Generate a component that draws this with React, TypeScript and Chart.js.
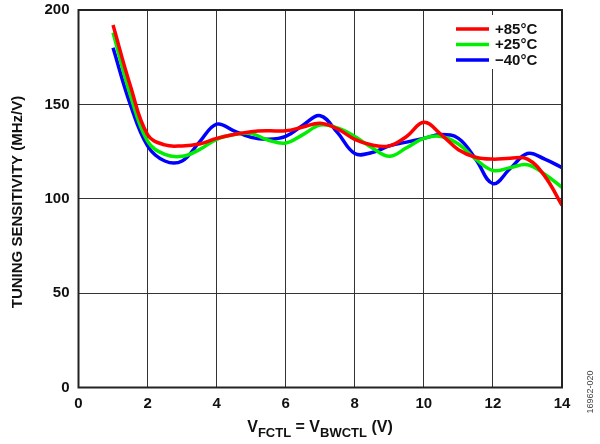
import React, { useEffect, useRef } from "react";
import { Chart, registerables } from "chart.js";

Chart.register(...registerables);

const xVals = [1, 1.5, 2, 2.5, 3, 3.5, 4, 4.5, 5, 5.5, 6, 6.5, 7, 7.5, 8, 8.5, 9, 9.5, 10, 10.5, 11, 11.5, 12, 12.5, 13, 13.5, 14];
const red85 = [192, 160, 134, 128.5, 128, 129, 132, 134, 135.5, 136, 136, 138, 140, 137, 131.5, 128.5, 128, 133, 140.5, 134, 126, 122, 121, 121.5, 121, 112, 96.5];
const green25 = [188, 155, 130.5, 123.5, 122.5, 126, 131.5, 134, 134.5, 131, 129.5, 134, 139, 137.5, 133, 127, 122.5, 127, 132, 133, 129, 121, 115, 116.5, 118, 113, 106];
const blueM40 = [180, 150, 128, 120, 120, 130, 139.5, 136, 132.5, 131.5, 133, 139, 144, 135, 124, 124.5, 128, 130, 132, 134, 132, 121, 108, 116, 124, 121, 116.5];
const seriesLabels = ["+85°C", "+25°C", "\u221240°C"];
const seriesColors = ["#ff0000", "#00ee00", "#0000ff"];
const xTicks = [0, 2, 4, 6, 8, 10, 12, 14];
const yTicks = [0, 50, 100, 150, 200];

const FONT = "'Liberation Sans', Arial, sans-serif";

const toPts = (ys: number[]) => ys.map((y, i) => ({ x: xVals[i], y }));

const textPlugin = {
  id: "textPlugin",
  afterDraw(chart: any) {
    const ctx = chart.ctx as CanvasRenderingContext2D;
    const ca = chart.chartArea;
    ctx.save();
    // legend box
    const lx = 452, ly = 15, lw = 104, lh = 54;
    ctx.fillStyle = "#ffffff";
    ctx.fillRect(lx, ly, lw, lh);
    seriesLabels.forEach((lab, i) => {
      const y = 29 + i * 15.5;
      ctx.strokeStyle = seriesColors[i];
      ctx.lineWidth = 3.5;
      ctx.beginPath();
      ctx.moveTo(456, y);
      ctx.lineTo(489, y);
      ctx.stroke();
      ctx.fillStyle = "#111";
      ctx.font = `bold 15px ${FONT}`;
      ctx.textAlign = "left";
      ctx.textBaseline = "middle";
      ctx.fillText(lab, 495, y + 0.5);
    });
    // y title
    ctx.save();
    ctx.translate(17.5, 202);
    ctx.rotate(-Math.PI / 2);
    ctx.font = `bold 15px ${FONT}`;
    ctx.fillStyle = "#111";
    ctx.textAlign = "center";
    ctx.textBaseline = "middle";
    ctx.fillText("TUNING SENSITIVITY (MHz/V)", 0, 0);
    ctx.restore();
    // x title with subscripts
    const parts: [string, boolean][] = [["V", false], ["FCTL", true], [" = V", false], ["BWCTL", true], [" (V)", false]];
    const big = `bold 16px ${FONT}`;
    const small = `bold 13px ${FONT}`;
    let total = 0;
    parts.forEach(([t, s]) => { ctx.font = s ? small : big; total += ctx.measureText(t).width; });
    let x = 320 - total / 2;
    const by = 432;
    ctx.fillStyle = "#111";
    ctx.textAlign = "left";
    ctx.textBaseline = "alphabetic";
    parts.forEach(([t, s]) => {
      ctx.font = s ? small : big;
      ctx.fillText(t, x, s ? by + 5 : by);
      x += ctx.measureText(t).width;
    });
    // figure code
    ctx.save();
    ctx.translate(591, 392);
    ctx.rotate(-Math.PI / 2);
    ctx.font = `9px ${FONT}`;
    ctx.fillStyle = "#444";
    ctx.textAlign = "center";
    ctx.textBaseline = "middle";
    ctx.fillText("16962-020", 0, 0);
    ctx.restore();
    // border
    ctx.strokeStyle = "#222";
    ctx.lineWidth = 2;
    ctx.strokeRect(ca.left, ca.top, ca.right - ca.left, ca.bottom - ca.top);
    ctx.restore();
  },
};

export default function App() {
  const ref = useRef<HTMLCanvasElement | null>(null);
  useEffect(() => {
    if (!ref.current) return;
    const data = [red85, green25, blueM40];
    const chart = new Chart(ref.current, {
      type: "scatter",
      data: {
        datasets: data.map((d, i) => ({
          label: seriesLabels[i],
          data: toPts(d),
          showLine: true,
          borderColor: seriesColors[i],
          backgroundColor: seriesColors[i],
          borderWidth: 3.5,
          pointRadius: 0,
          tension: 0.4,
          fill: false,
        })),
      },
      options: {
        responsive: false,
        animation: false,
        layout: { padding: { top: 10, right: 38, left: 0, bottom: 0 } },
        plugins: { legend: { display: false }, tooltip: { enabled: false } },
        scales: {
          x: {
            type: "linear",
            min: 0,
            max: 14,
            afterBuildTicks: (s: any) => { s.ticks = xTicks.map((v) => ({ value: v })); },
            afterFit: (s: any) => { s.height = 56.5; },
            grid: { color: "#333", lineWidth: 1, drawTicks: false },
            border: { display: false },
            ticks: { color: "#111", font: { family: FONT, size: 15, weight: "bold" }, padding: 7, maxRotation: 0 },
          },
          y: {
            type: "linear",
            min: 0,
            max: 200,
            afterBuildTicks: (s: any) => { s.ticks = yTicks.map((v) => ({ value: v })); },
            afterFit: (s: any) => { s.width = 78.5; s.paddingTop = 0; s.paddingBottom = 0; },
            grid: { color: "#333", lineWidth: 1, drawTicks: false },
            border: { display: false },
            ticks: { color: "#111", font: { family: FONT, size: 15, weight: "bold" }, padding: 9 },
          },
        },
      },
      plugins: [textPlugin],
    } as any);
    return () => chart.destroy();
  }, []);
  return (
    <div style={{ position: "absolute", left: 0, top: 0, width: 600, height: 444, background: "#fff" }}>
      <canvas ref={ref} width={600} height={444} style={{ width: 600, height: 444 }} />
    </div>
  );
}
